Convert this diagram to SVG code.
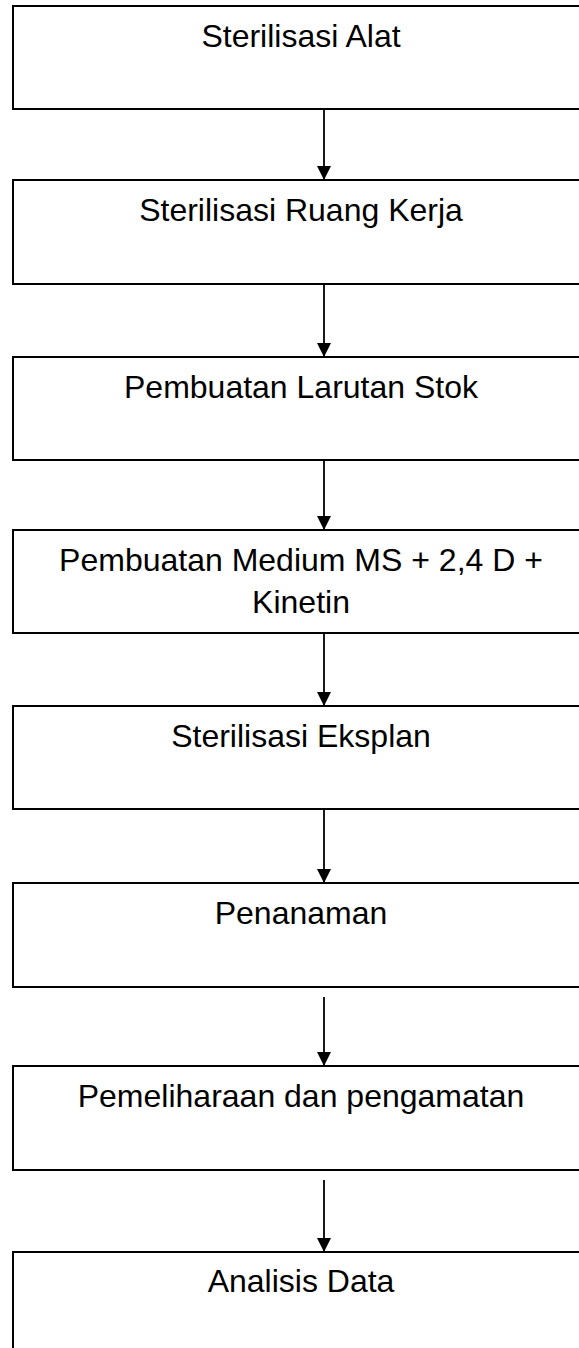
<svg xmlns="http://www.w3.org/2000/svg" width="579" height="1348" viewBox="0 0 579 1348">
<style>
.box{fill:#fff;stroke:#000;stroke-width:2}
.lbl{font-family:"Liberation Sans",Arial,sans-serif;font-size:32px;fill:#000;text-anchor:middle}
.conn{stroke:#000;stroke-width:1.8;fill:none}
</style>
<defs>
<marker id="ah" markerUnits="userSpaceOnUse" markerWidth="14" markerHeight="14" refX="7" refY="14" orient="0" viewBox="0 0 14 14">
<path d="M0,0 L14,0 L7,14 Z" fill="#000"/>
</marker>
</defs>
<rect width="579" height="1348" fill="#fff"/>
<g id="n1"><rect class="box" x="13" y="6" width="590" height="103"/><text class="lbl" x="301" y="47">Sterilisasi Alat</text></g>
<g id="n2"><rect class="box" x="13" y="180" width="590" height="104"/><text class="lbl" x="301" y="221">Sterilisasi Ruang Kerja</text></g>
<g id="n3"><rect class="box" x="13" y="357" width="590" height="103"/><text class="lbl" x="301" y="398">Pembuatan Larutan Stok</text></g>
<g id="n4"><rect class="box" x="13" y="530" width="590" height="103"/><text class="lbl" x="301" y="571">Pembuatan Medium MS + 2,4 D +</text><text class="lbl" x="301" y="612.5">Kinetin</text></g>
<g id="n5"><rect class="box" x="13" y="706" width="590" height="103"/><text class="lbl" x="301" y="747">Sterilisasi Eksplan</text></g>
<g id="n6"><rect class="box" x="13" y="883" width="590" height="104"/><text class="lbl" x="301" y="924">Penanaman</text></g>
<g id="n7"><rect class="box" x="13" y="1066" width="590" height="104"/><text class="lbl" x="301" y="1107">Pemeliharaan dan pengamatan</text></g>
<g id="n8"><rect class="box" x="13" y="1252" width="590" height="120"/><text class="lbl" x="301" y="1292">Analisis Data</text></g>
<g id="connectors">
<line class="conn" x1="324" y1="109" x2="324" y2="180" marker-end="url(#ah)"/>
<line class="conn" x1="324" y1="284" x2="324" y2="357" marker-end="url(#ah)"/>
<line class="conn" x1="324" y1="460" x2="324" y2="530" marker-end="url(#ah)"/>
<line class="conn" x1="324" y1="633" x2="324" y2="706" marker-end="url(#ah)"/>
<line class="conn" x1="324" y1="809" x2="324" y2="883" marker-end="url(#ah)"/>
<line class="conn" x1="324" y1="997" x2="324" y2="1066" marker-end="url(#ah)"/>
<line class="conn" x1="324" y1="1180" x2="324" y2="1252" marker-end="url(#ah)"/>
</g>
</svg>
